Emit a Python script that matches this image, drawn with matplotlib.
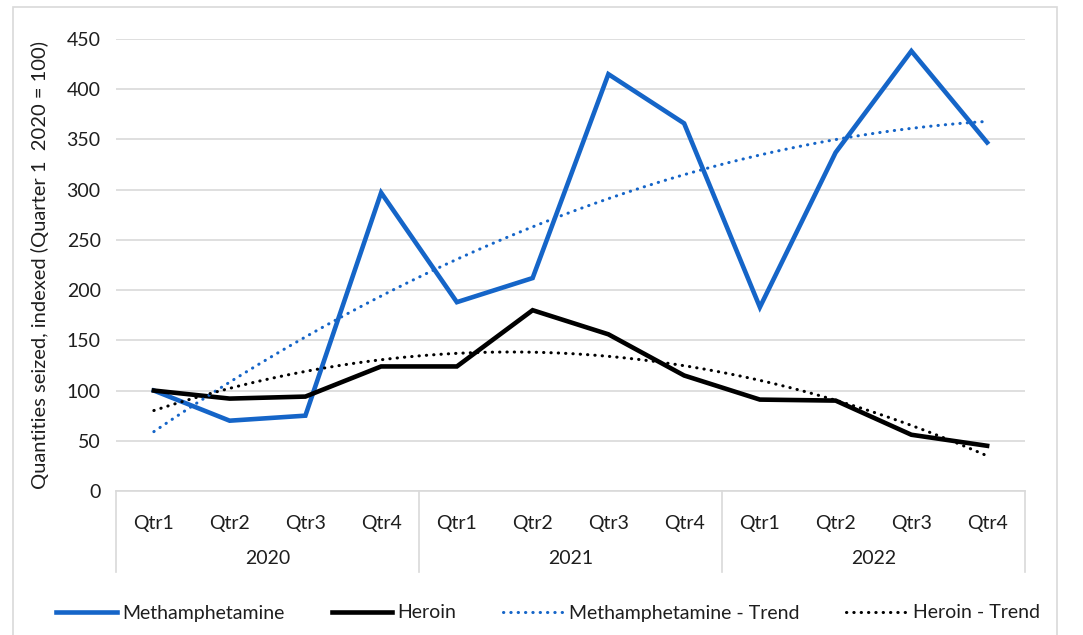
import numpy as np
import matplotlib
matplotlib.use("Agg")
import matplotlib.pyplot as plt
from matplotlib.patches import Rectangle
from matplotlib.lines import Line2D
import matplotlib.transforms as mtransforms

# Quarterly seizure index (Quarter 1 2020 = 100)
years = ["2020", "2021", "2022"]
quarters = ["Qtr1", "Qtr2", "Qtr3", "Qtr4"]
methamphetamine = [100, 70, 75, 297, 188, 212, 415, 366, 183, 337, 438, 347]
heroin = [100, 92, 94, 124, 124, 180, 156, 115, 91, 90, 56, 45]
y_ticks = [0, 50, 100, 150, 200, 250, 300, 350, 400, 450]

BLUE = "#1565c8"
BLACK = "#000000"
GRID = "#d9d9d9"
TEXT = "#1e1e1e"
FS = 14

plt.rcParams["font.family"] = ["Lato", "DejaVu Sans"]

W, H = 1083, 635
fig = plt.figure(figsize=(W / 100, H / 100), dpi=100)

# outer chart border
fig.patches.append(Rectangle((13 / W, -0.01), (1057 - 13) / W, 1 - 7 / H + 0.01,
                             transform=fig.transFigure, fill=False,
                             edgecolor=GRID, linewidth=1.2))

left, right, top, bottom = 116, 1025, 39, 491
ax = fig.add_axes([left / W, 1 - bottom / H, (right - left) / W, (bottom - top) / H])

n = len(methamphetamine)
x = np.arange(n)

# polynomial (order 2) trend lines fitted to each series
xf = np.linspace(0, n - 1, 200)
meth_trend = np.polyval(np.polyfit(x + 1, methamphetamine, 2), xf + 1)
her_trend = np.polyval(np.polyfit(x + 1, heroin, 2), xf + 1)

LW = 3.3
TLW = 2.2
dot = (0, (0.1, 2.3))
ax.plot(x, methamphetamine, color=BLUE, lw=LW, solid_joinstyle="miter", zorder=4)
ax.plot(x, heroin, color=BLACK, lw=LW, solid_joinstyle="miter", zorder=4)
ax.plot(xf, meth_trend, color=BLUE, lw=TLW, linestyle=dot, dash_capstyle="round", zorder=5)
ax.plot(xf, her_trend, color=BLACK, lw=TLW, linestyle=dot, dash_capstyle="round", zorder=5)

ax.set_xlim(-0.5, n - 0.5)
ax.set_ylim(0, 450)
ax.set_yticks(y_ticks)
ax.set_yticklabels([str(v) for v in y_ticks])
ax.yaxis.grid(True, color=GRID, lw=1.2)
ax.set_axisbelow(True)
for s in ["top", "right", "left"]:
    ax.spines[s].set_visible(False)
ax.spines["bottom"].set_color(GRID)
ax.spines["bottom"].set_linewidth(1.2)
ax.tick_params(axis="y", length=0, pad=11, labelsize=FS, labelcolor=TEXT)

ax.set_xticks(x)
ax.set_xticklabels(quarters * len(years))
ax.tick_params(axis="x", length=0, pad=17, labelsize=FS, labelcolor=TEXT)

# year group labels and separators
trans = mtransforms.blended_transform_factory(ax.transData, ax.transAxes)
sep_depth = -(572 - 491) / (bottom - top)
for i in range(len(years) + 1):
    xs = i * 4 - 0.5
    ax.add_line(Line2D([xs, xs], [0, sep_depth], transform=trans, color=GRID,
                       lw=1.2, clip_on=False))
for i, yr in enumerate(years):
    ax.text(i * 4 + 1.5, -(559 - 491) / (bottom - top), yr, transform=trans,
            ha="center", va="center", fontsize=FS, color=TEXT)

fig.text(40 / W, 1 - 265 / H, "Quantities seized, indexed (Quarter 1  2020 = 100)",
         rotation=90, ha="center", va="center", fontsize=FS + 0.5, color=TEXT)

handles = [
    Line2D([], [], color=BLUE, lw=LW),
    Line2D([], [], color=BLACK, lw=LW),
    Line2D([], [], color=BLUE, lw=TLW, linestyle=dot, dash_capstyle="round"),
    Line2D([], [], color=BLACK, lw=TLW, linestyle=dot, dash_capstyle="round"),
]
labels = ["Methamphetamine", "Heroin", "Methamphetamine - Trend", "Heroin - Trend"]
fig.legend(handles, labels, loc="center", bbox_to_anchor=(548 / W, 1 - 613 / H),
           ncol=4, frameon=False, fontsize=FS, handlelength=3.1, handletextpad=0.3,
           columnspacing=2.4, labelcolor=TEXT)

fig.savefig("out.png", dpi=100)
